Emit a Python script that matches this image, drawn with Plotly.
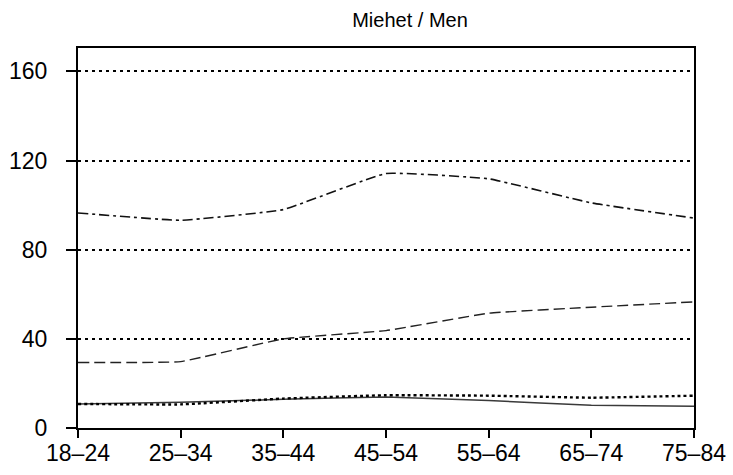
import plotly.graph_objects as go

age_groups = ["18–24", "25–34", "35–44", "45–54", "55–64", "65–74", "75–84"]

series_dashdot = [96.5, 93.2, 98.0, 114.2, 111.8, 101.0, 94.2]
series_dash = [29.4, 29.8, 40.0, 43.7, 51.5, 54.2, 56.6]
series_solid = [10.8, 11.5, 12.9, 13.9, 12.3, 10.2, 9.8]
series_dot = [10.8, 10.6, 13.2, 14.7, 14.5, 13.6, 14.5]

y_ticks = [0, 40, 80, 120, 160]

fig = go.Figure()

styles = [
    (series_dashdot, "10px,4px,3px,4px", "#111111", 1.6),
    (series_dash, "11px,5px", "#222222", 1.4),
    (series_solid, "solid", "#3a3a3a", 1.5),
    (series_dot, "3px,3px", "#000000", 2.4),
]
x_pos = list(range(len(age_groups)))
for vals, dash, color, width in styles:
    fig.add_trace(go.Scatter(
        x=x_pos, y=vals, mode="lines",
        line=dict(color=color, width=width, dash=dash, shape="spline", smoothing=0.3),
        showlegend=False, hoverinfo="skip", cliponaxis=False,
    ))

fig.update_layout(
    width=733, height=475,
    margin=dict(l=78, r=39, t=48, b=47, autoexpand=False),
    paper_bgcolor="white", plot_bgcolor="white",
    font=dict(family="Liberation Sans, Arial, sans-serif", size=23, color="black"),
    title=dict(text="Miehet / Men", x=410 / 733, xanchor="center",
               y=1 - 20 / 475, yanchor="middle", font=dict(size=20)),
)
fig.update_xaxes(
    range=[0, len(age_groups) - 1],
    tickvals=x_pos, ticktext=age_groups,
    showline=True, linecolor="black", linewidth=2, mirror=True,
    ticks="outside", ticklen=8, tickwidth=2, tickcolor="black",
    ticklabelstandoff=-5, automargin=False,
    showgrid=False, zeroline=False,
)
fig.update_yaxes(
    range=[0, 170.5], tickvals=y_ticks,
    showline=True, linecolor="black", linewidth=2, mirror=True,
    ticks="outside", ticklen=10, tickwidth=2, tickcolor="black",
    ticklabelstandoff=14, automargin=False,
    showgrid=True, gridcolor="black", gridwidth=2, griddash="3px,4px",
    zeroline=False,
)

fig.write_html("out.html")
